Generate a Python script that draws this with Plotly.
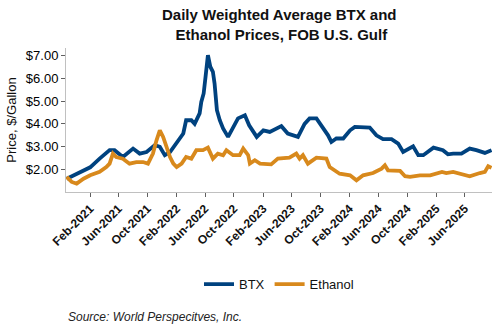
import plotly.graph_objects as go

btx_dates = ["2020-10-25","2020-12-20","2021-02-01","2021-03-13","2021-04-24","2021-05-15","2021-06-19",
             "2021-08-01","2021-08-29","2021-09-27","2021-11-01","2021-11-22","2021-12-13","2022-01-04",
             "2022-02-01","2022-03-01","2022-03-13","2022-04-04","2022-04-18","2022-05-09","2022-05-16",
             "2022-05-26","2022-06-03","2022-06-13","2022-06-23","2022-07-04","2022-07-11","2022-07-21",
             "2022-08-02","2022-08-16","2022-09-06","2022-09-27","2022-10-18","2022-11-16","2022-12-04",
             "2023-01-05","2023-02-02","2023-03-01","2023-04-19","2023-05-16","2023-06-28","2023-07-26",
             "2023-08-16","2023-09-14","2023-10-05","2023-11-02","2023-11-16","2023-12-07","2024-01-05",
             "2024-02-03","2024-02-23","2024-04-26","2024-05-24","2024-06-21","2024-07-27","2024-08-24",
             "2024-09-14","2024-10-05","2024-10-26","2024-11-17","2024-12-08","2025-01-20","2025-03-01",
             "2025-03-22","2025-04-13","2025-05-18","2025-06-22","2025-07-20","2025-08-25","2025-09-22"]
btx_values = [1.60,1.90,2.10,2.48,2.85,2.85,2.55,
              2.92,2.70,2.77,3.07,3.00,2.63,2.77,
              3.20,3.58,4.16,4.16,4.00,4.46,4.96,
              5.33,6.06,7.01,6.50,6.28,5.77,4.60,
              4.16,3.80,3.43,3.87,4.24,4.38,3.94,
              3.43,3.72,3.65,3.90,3.58,3.43,4.00,
              4.24,4.24,3.94,3.50,3.21,3.36,3.36,
              3.72,3.87,3.84,3.50,3.33,3.33,3.14,
              2.77,2.92,3.02,2.63,2.63,2.96,2.85,
              2.67,2.70,2.70,2.92,2.85,2.73,2.85]

eth_dates = ["2020-10-25","2020-11-15","2020-12-06","2021-01-04","2021-02-01","2021-03-13","2021-04-10",
             "2021-04-24","2021-05-08","2021-05-22","2021-06-19","2021-07-17","2021-08-15","2021-09-12",
             "2021-10-03","2021-10-24","2021-11-08","2021-11-22","2021-12-06","2021-12-20","2022-01-04",
             "2022-01-18","2022-02-01","2022-02-22","2022-03-13","2022-04-04","2022-04-25","2022-05-23",
             "2022-06-13","2022-07-04","2022-07-25","2022-08-16","2022-08-30","2022-09-27","2022-10-25",
             "2022-11-09","2022-11-30","2022-12-07","2022-12-28","2023-01-19","2023-03-07","2023-04-04",
             "2023-05-23","2023-06-21","2023-07-05","2023-07-19","2023-08-09","2023-09-14","2023-10-26",
             "2023-11-09","2023-12-21","2024-02-03","2024-03-01","2024-03-29","2024-05-10","2024-06-15",
             "2024-06-29","2024-07-12","2024-09-01","2024-09-22","2024-10-13","2024-11-24","2025-01-06",
             "2025-02-25","2025-03-15","2025-04-13","2025-05-11","2025-06-22","2025-08-04","2025-08-25",
             "2025-09-08","2025-09-22"]
eth_values = [1.68,1.46,1.39,1.60,1.75,1.90,2.11,
              2.26,2.70,2.55,2.48,2.26,2.33,2.33,
              2.26,2.70,3.28,3.72,3.43,3.00,2.55,
              2.26,2.11,2.26,2.55,2.48,2.85,2.85,
              2.96,2.48,2.70,2.63,2.85,2.63,2.63,
              2.92,2.63,2.26,2.41,2.26,2.23,2.48,
              2.52,2.70,2.48,2.63,2.26,2.52,2.48,
              2.11,1.82,1.75,1.53,1.75,1.85,2.04,
              2.19,1.97,1.94,1.71,1.68,1.75,1.75,
              1.90,1.85,1.90,1.82,1.71,1.85,1.90,
              2.15,2.08]

tick_dates = ["2021-02-01","2021-06-01","2021-10-01","2022-02-01","2022-06-01","2022-10-01",
              "2023-02-01","2023-06-01","2023-10-01","2024-02-01","2024-06-01","2024-10-01",
              "2025-02-01","2025-06-01"]
tick_labels = ["<b>Feb-2021</b>","<b>Jun-2021</b>","<b>Oct-2021</b>","<b>Feb-2022</b>","<b>Jun-2022</b>",
               "<b>Oct-2022</b>","<b>Feb-2023</b>","<b>Jun-2023</b>","<b>Oct-2023</b>","<b>Feb-2024</b>",
               "<b>Jun-2024</b>","<b>Oct-2024</b>","<b>Feb-2025</b>","<b>Jun-2025</b>"]
y_ticks = [2, 3, 4, 5, 6, 7]

font_fam = "Liberation Sans, Arial, sans-serif"

fig = go.Figure()
fig.add_trace(go.Scatter(x=btx_dates, y=btx_values, mode="lines", name="BTX",
                         line=dict(color="#00427f", width=3.8)))
fig.add_trace(go.Scatter(x=eth_dates, y=eth_values, mode="lines", name="Ethanol",
                         line=dict(color="#d8891c", width=3.8)))

fig.update_layout(
    width=500, height=330,
    margin=dict(l=66, r=8, t=48, b=138),
    paper_bgcolor="white", plot_bgcolor="white",
    font=dict(family=font_fam, color="#111111"),
    showlegend=True,
    legend=dict(orientation="h", x=0.5, xanchor="center", yref="container", y=0.139, yanchor="middle",
                font=dict(size=13, color="#111111"), itemwidth=30, tracegroupgap=0),
    xaxis=dict(type="date", range=["2020-10-22", "2025-09-24"], tickvals=tick_dates, ticktext=tick_labels,
               tickangle=-45, showgrid=False, zeroline=False,
               showline=True, linecolor="#c0c0c0", linewidth=1,
               ticks="outside", ticklen=4, tickcolor="#606060",
               tickfont=dict(size=12, color="#111111")),
    yaxis=dict(range=[1.02, 7.32], tickvals=y_ticks, tickformat="$.2f", showgrid=False, zeroline=False,
               showline=True, linecolor="#c0c0c0", linewidth=1,
               ticks="outside", ticklen=4, tickcolor="#606060",
               tickfont=dict(size=13, color="#000000"),
               title=dict(text="Price, $/Gallon", font=dict(size=13, color="#111111"), standoff=6)),
)

fig.add_annotation(text="<b>Daily Weighted Average BTX and<br> Ethanol Prices, FOB U.S. Gulf</b>",
                   xref="paper", yref="paper", x=0.5, xanchor="center", y=1.165, yanchor="middle",
                   showarrow=False, align="center",
                   font=dict(size=15, color="#111111", family=font_fam))

fig.add_annotation(text="<i>Source: World Perspecitves, Inc.</i>", xref="paper", yref="paper",
                   x=0, xanchor="left", y=-0.865, yanchor="middle", showarrow=False,
                   font=dict(size=12, color="#222222", family=font_fam))

fig.write_html("out.html")
